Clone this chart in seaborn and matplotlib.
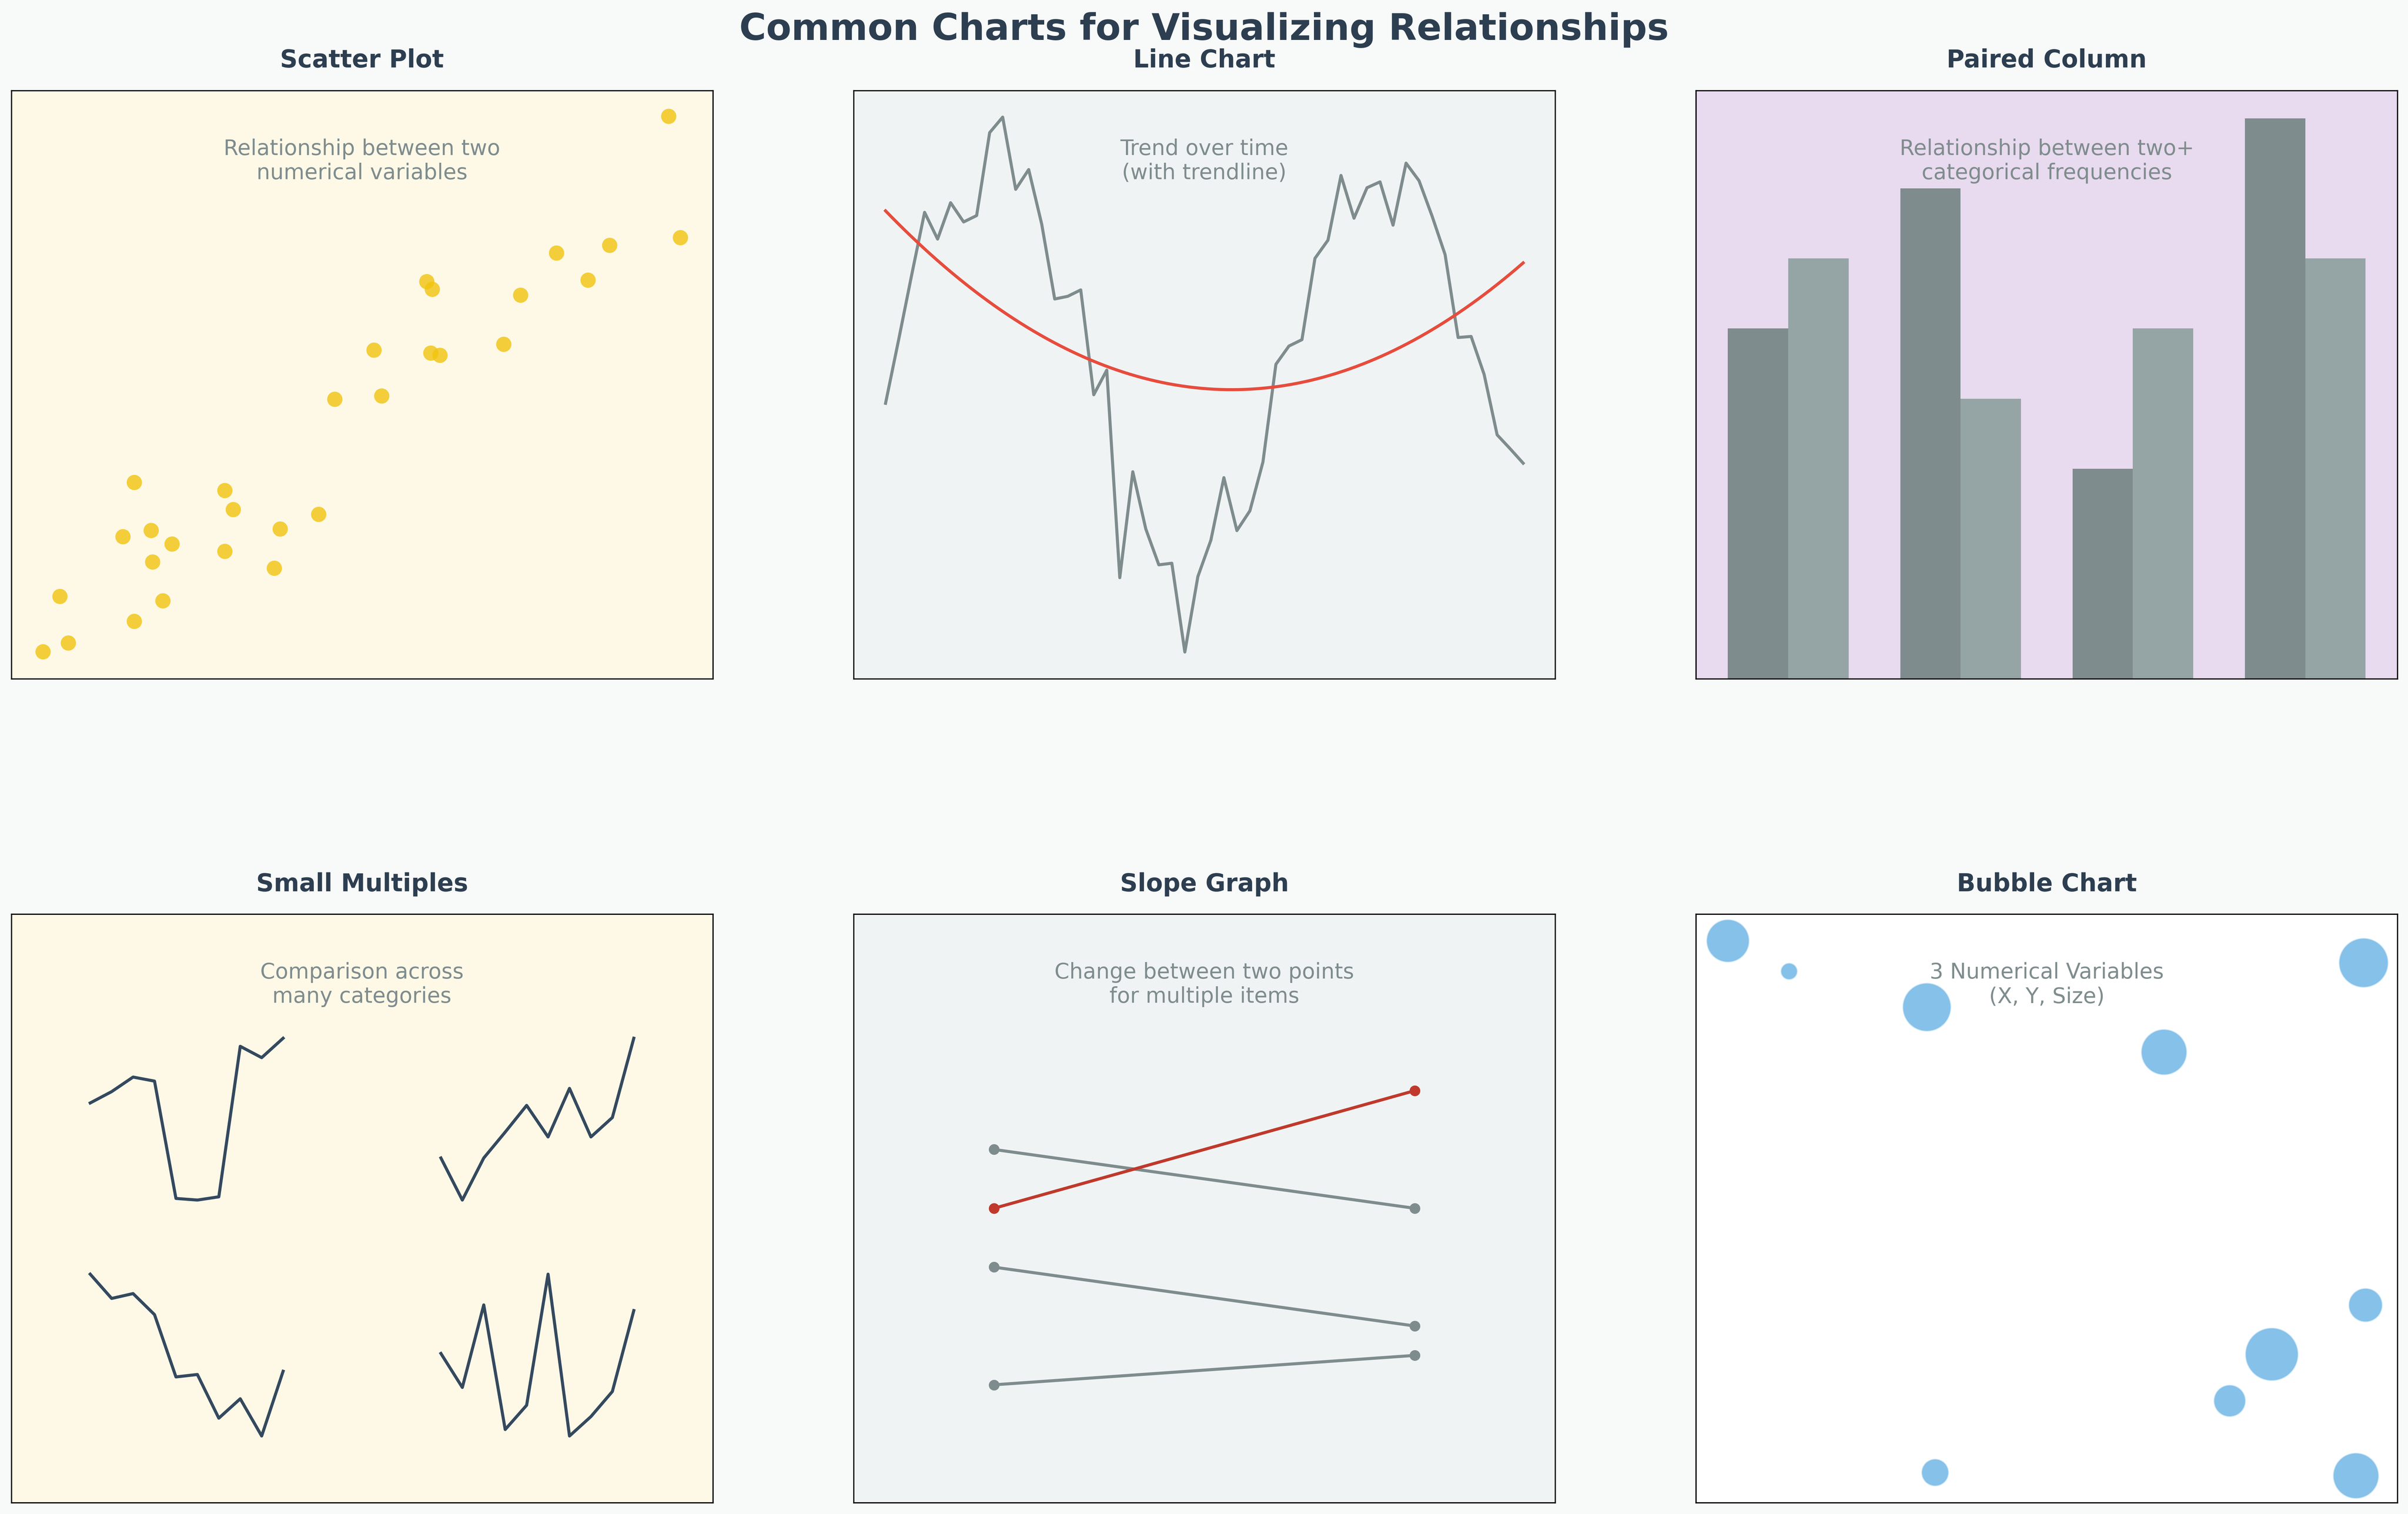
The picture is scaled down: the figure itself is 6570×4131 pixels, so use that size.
import numpy as np
import pandas as pd
import matplotlib
matplotlib.use("Agg")
import matplotlib.pyplot as plt
import seaborn as sns

# ---- data ----
# scatter plot
scatter_x = [9.37, 9.54, 8.53, 7.77, 8.22, 5.92, 6.00, 7.26, 5.17, 5.98,
             6.11, 7.02, 4.61, 5.28, 1.75, 3.04, 3.16, 4.38, 3.83, 1.59,
             1.99, 2.29, 2.01, 3.04, 3.75, 0.69, 2.16, 1.75, 0.81, 0.45]
scatter_y = [9.56, 7.50, 7.37, 7.24, 6.78, 6.75, 6.62, 6.52, 5.59, 5.54,
             5.50, 5.69, 4.75, 4.81, 3.34, 3.20, 2.88, 2.80, 2.55, 2.42,
             2.52, 2.29, 1.99, 2.17, 1.88, 1.40, 1.33, 0.98, 0.61, 0.46]

# line chart (50 time steps)
trend_values = [4.65, 5.83, 7.04, 8.22, 7.72, 8.40, 8.04, 8.16, 9.71, 10.00,
                8.65, 9.02, 8.00, 6.60, 6.65, 6.77, 4.81, 5.27, 1.39, 3.37,
                2.30, 1.63, 1.66, 0.00, 1.41, 2.09, 3.26, 2.27, 2.64, 3.55,
                5.38, 5.72, 5.84, 7.36, 7.70, 8.91, 8.11, 8.68, 8.79, 7.98,
                9.14, 8.81, 8.15, 7.43, 5.88, 5.90, 5.19, 4.06, 3.80, 3.53]
time_steps = list(range(len(trend_values)))

# paired column
pair_groups = ["A", "B", "C", "D"]
pair_series_1 = [5, 7, 3, 8]
pair_series_2 = [6, 4, 5, 6]

# small multiples (each series normalised 0..1)
multi_top_left = [0.60, 0.67, 0.76, 0.735, 0.01, 0.00, 0.02, 0.95, 0.88, 1.00]
multi_top_right = [0.26, 0.00, 0.26, 0.42, 0.585, 0.39, 0.69, 0.39, 0.51, 1.00]
multi_bottom_left = [1.00, 0.85, 0.88, 0.75, 0.365, 0.38, 0.11, 0.23, 0.00, 0.40]
multi_bottom_right = [0.51, 0.30, 0.81, 0.04, 0.19, 1.00, 0.00, 0.12, 0.275, 0.775]

# slope graph
slope_stages = [1, 4]
slope_start = [6.0, 5.0, 4.0, 2.0]
slope_end = [5.0, 7.0, 3.0, 2.5]
slope_highlight = [False, True, False, False]

# bubble chart
bubble_x = [0.0, 0.096, 0.312, 0.684, 0.997, 1.0, 0.853, 0.787, 0.325, 0.985]
bubble_y = [1.0, 0.943, 0.876, 0.792, 0.959, 0.319, 0.227, 0.14, 0.006, 0.0]
bubble_size = [800, 125, 1020, 910, 1060, 500, 1220, 446, 327, 910]

# ---- styling ----
DARK = "#2c3e50"
GREY = "#7f8c8d"
LW = 2
NOTE_KW = dict(ha="center", va="center", fontsize=14, color=GREY)


def finish(ax, title, note):
    ax.set_title(title, fontsize=16, fontweight="bold", color=DARK, pad=15)
    ax.text(0.5, 0.88, note, transform=ax.transAxes, **NOTE_KW)
    ax.set_xticks([])
    ax.set_yticks([])
    ax.set_xlabel("")
    ax.set_ylabel("")
    for s in ax.spines.values():
        s.set_color("black")
        s.set_linewidth(0.8)
        s.set_visible(True)


fig, axes = plt.subplots(2, 3, figsize=(21.9, 13.77), dpi=300)
fig.patch.set_facecolor("#f8f9f9")
plt.subplots_adjust(left=0.0047, right=0.9956, top=0.9403, bottom=0.0076,
                    wspace=0.201, hspace=0.4)

# scatter plot
ax = axes[0, 0]
ax.set_facecolor("#fef9e7")
sns.scatterplot(x=scatter_x, y=scatter_y, ax=ax, color="#f1c40f", alpha=0.8,
                s=100, linewidth=0)
ax.set_xlim(0, 10)
ax.set_ylim(0, 10)
finish(ax, "Scatter Plot", "Relationship between two\nnumerical variables")

# line chart with trendline
ax = axes[0, 1]
ax.set_facecolor("#f0f3f4")
sns.lineplot(x=time_steps, y=trend_values, ax=ax, color=GREY, linewidth=LW)
sns.regplot(x=time_steps, y=trend_values, ax=ax, order=2, scatter=False,
            ci=None, line_kws=dict(color="#e74c3c", linewidth=LW))
finish(ax, "Line Chart", "Trend over time\n(with trendline)")

# paired column
ax = axes[0, 2]
ax.set_facecolor("#e8daef")
pair_df = pd.DataFrame({
    "group": pair_groups * 2,
    "series": ["first"] * 4 + ["second"] * 4,
    "value": pair_series_1 + pair_series_2,
})
sns.barplot(data=pair_df, x="group", y="value", hue="series", ax=ax,
            palette=["#7f8c8d", "#95a5a6"], width=0.7, saturation=1,
            legend=False)
ax.set_xlim(-0.535, 3.535)
finish(ax, "Paired Column", "Relationship between two+\ncategorical frequencies")

# small multiples: 2x2 mini panels inside one axes (units = panel size)
ax = axes[1, 0]
ax.set_facecolor("#fef9e7")
col_step, row_step = 1.818, 1.458
for (row, col), vals in {(1, 0): multi_top_left, (1, 1): multi_top_right,
                         (0, 0): multi_bottom_left, (0, 1): multi_bottom_right}.items():
    xs = np.arange(len(vals)) / (len(vals) - 1) + col * col_step
    ys = np.array(vals) + row * row_step
    sns.lineplot(x=xs, y=ys, ax=ax, color="#34495e", linewidth=LW)
ax.set_xlim(-0.409, 3.227)
ax.set_ylim(-0.411, 3.225)
finish(ax, "Small Multiples", "Comparison across\nmany categories")

# slope graph
ax = axes[1, 1]
ax.set_facecolor("#f0f3f4")
for a, b, hl in zip(slope_start, slope_end, slope_highlight):
    c = "#c0392b" if hl else GREY
    sns.lineplot(x=slope_stages, y=[a, b], ax=ax, color=c, linewidth=LW,
                 marker="o", markersize=7, markeredgecolor=c,
                 markeredgewidth=0)
ax.set_xlim(0, 5)
ax.set_ylim(0, 10)
finish(ax, "Slope Graph", "Change between two points\nfor multiple items")

# bubble chart
ax = axes[1, 2]
ax.set_facecolor("white")
sns.scatterplot(x=bubble_x, y=bubble_y, s=bubble_size, ax=ax,
                color="#3498db", alpha=0.6, edgecolor="white", linewidth=1)
finish(ax, "Bubble Chart", "3 Numerical Variables\n(X, Y, Size)")

fig.suptitle("Common Charts for Visualizing Relationships", fontsize=24,
             fontweight="bold", color=DARK, y=0.992)

fig.savefig("out.png", dpi=300, facecolor=fig.get_facecolor())
